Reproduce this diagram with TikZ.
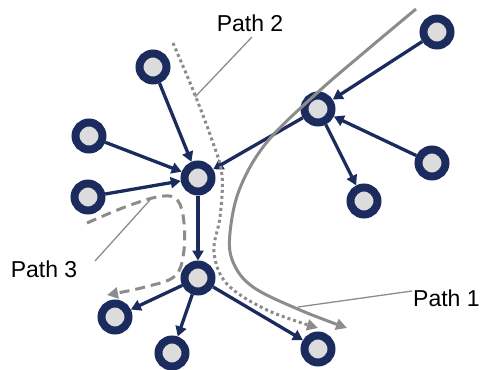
\documentclass[tikz,border=0pt]{standalone}
\usepackage{fontspec}
\setmainfont{Liberation Sans}
\usetikzlibrary{arrows.meta}
\definecolor{navy}{RGB}{28,43,94}
\definecolor{pgray}{RGB}{140,140,140}
\definecolor{nfill}{RGB}{220,220,220}
\begin{document}
\begin{tikzpicture}[x=1pt,y=-1pt,
  vtx/.style={circle,draw=navy,fill=nfill,line width=8pt,minimum size=27pt,inner sep=0pt},
  edge/.style={draw=navy,line width=3.3pt,-{Triangle[length=10pt,width=11pt]}},
  pathline/.style={draw=pgray,line width=3pt},
  ptip/.style={-{Triangle[length=11pt,width=11pt]}},
  leader/.style={draw=pgray,line width=1.3pt},
  lbl/.style={font=\fontsize{23}{26}\selectfont,inner sep=0pt}]
\useasboundingbox (0,0) rectangle (483,370);
% nodes
\node[vtx] (n1) at (153,67) {};
\node[vtx] (n2) at (437,32) {};
\node[vtx] (n3) at (318,109) {};
\node[vtx] (n4) at (89,136) {};
\node[vtx] (n5) at (432,163) {};
\node[vtx] (ha) at (198,178) {};
\node[vtx] (n6) at (88,197) {};
\node[vtx] (n7) at (364,201) {};
\node[vtx] (hb) at (198,278) {};
\node[vtx] (n8) at (115,317) {};
\node[vtx] (n9) at (172,353) {};
\node[vtx] (n10) at (318,349) {};
% edges
\draw[edge] (n1) -- (ha);
\draw[edge] (n4) -- (ha);
\draw[edge] (n6) -- (ha);
\draw[edge] (n3) -- (ha);
\draw[edge] (ha) -- (hb);
\draw[edge] (n2) -- (n3);
\draw[edge] (n5) -- (n3);
\draw[edge] (n3) -- (n7);
\draw[edge] (hb) -- (n8);
\draw[edge] (hb) -- (n9);
\draw[edge] (hb) -- (n10);
% path 1 (solid)
\coordinate (p1s) at (416,9);
\coordinate (p1e) at (347,328);
\draw[pathline,ptip] plot[smooth,tension=0.6] coordinates {(p1s) (367,50) (317,93) (267,142) (240,188) (230,233) (233,262) (253,287) (300,310) (p1e)};
% path 2 (dotted)
\coordinate (p2s) at (173,43);
\coordinate (p2e) at (318,328);
\draw[pathline,ptip,dash pattern=on 3pt off 3pt] plot[smooth,tension=0.6] coordinates {(p2s) (193,90) (212,140) (222,175) (220,217) (214,252) (227,284) (267,310) (p2e)};
% path 3 (dashed)
\coordinate (p3s) at (87,223);
\coordinate (p3e) at (107,295);
\draw[pathline,ptip,dash pattern=on 10pt off 6pt] plot[smooth,tension=0.6] coordinates {(p3s) (125,207) (157,197) (175,198) (183,215) (184,250) (175,276) (145,287) (p3e)};
% labels
\node[lbl] (l2) at (250,23) {Path 2};
\node[lbl] (l3) at (44,269) {Path 3};
\node[lbl,anchor=west] (l1) at (413,298) {Path 1};
\coordinate (a2) at (195,97);
\coordinate (a3) at (150,200);
\coordinate (a1) at (298,307);
\draw[leader] (252,37) -- (a2);
\draw[leader] (95,261) -- (a3);
\draw[leader] (412,291) -- (a1);
\end{tikzpicture}
\end{document}
